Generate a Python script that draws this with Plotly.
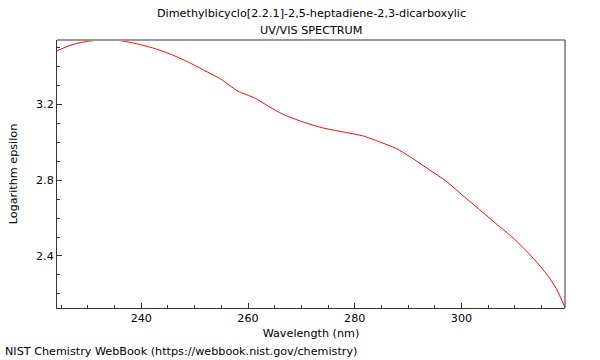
import plotly.graph_objects as go

wavelength_nm = [224.2, 226.8, 229.9, 233.1, 236.2, 239.3, 242.4, 245.6, 248.7, 251.8,
                 254.9, 258.1, 261.2, 264.0, 266.5, 270.2, 274.0, 277.7, 281.5, 284.6,
                 287.8, 290.9, 294.0, 297.1, 300.2, 303.4, 306.5, 309.6, 312.8, 315.9,
                 317.8, 319.4]
log_epsilon = [3.481, 3.511, 3.531, 3.538, 3.534, 3.517, 3.494, 3.462, 3.423, 3.378,
               3.332, 3.269, 3.233, 3.186, 3.147, 3.107, 3.075, 3.054, 3.033, 3.002,
               2.966, 2.913, 2.854, 2.795, 2.720, 2.644, 2.570, 2.497, 2.408, 2.307,
               2.227, 2.129]

x_ticks = [240, 260, 280, 300]
y_ticks = [2.4, 2.8, 3.2]

title_line1 = "Dimethylbicyclo[2.2.1]-2,5-heptadiene-2,3-dicarboxylic"
title_line2 = "UV/VIS SPECTRUM"
footer = "NIST Chemistry WebBook (https://webbook.nist.gov/chemistry)"

font = "DejaVu Sans, sans-serif"
fs = 11.2

fig = go.Figure()
fig.add_trace(go.Scatter(x=wavelength_nm, y=log_epsilon, mode="lines",
                         line=dict(color="#ff0000", width=1, shape="spline", smoothing=0.6),
                         hoverinfo="skip", showlegend=False))

fig.update_layout(
    width=600, height=360,
    margin=dict(l=57, r=35, t=40, b=52),
    paper_bgcolor="white", plot_bgcolor="white",
    font=dict(family=font, size=fs, color="#000000"),
    xaxis=dict(range=[224.2, 319.4], tickvals=x_ticks, ticks="inside", ticklen=5,
               tickcolor="#333", showgrid=False, zeroline=False,
               showline=True, linecolor="#333", linewidth=1,
               minor=dict(dtick=5, ticks="inside", ticklen=3, tickcolor="#333"),
               title=dict(text="Wavelength (nm)", standoff=4, font=dict(size=fs)),
               tickfont=dict(size=fs)),
    yaxis=dict(range=[2.126, 3.538], tickvals=y_ticks, ticks="inside", ticklen=5,
               tickcolor="#333", showgrid=False, zeroline=False,
               showline=True, linecolor="#333", linewidth=1,
               minor=dict(dtick=0.1, ticks="inside", ticklen=3, tickcolor="#333"),
               title=dict(text="Logarithm epsilon", standoff=16, font=dict(size=fs)),
               tickfont=dict(size=fs)),
    shapes=[
        dict(type="line", xref="paper", yref="paper", x0=0, x1=1, y0=1, y1=1,
             line=dict(color="#999999", width=2)),
        dict(type="line", xref="paper", yref="paper", x0=1, x1=1, y0=0, y1=1,
             line=dict(color="#333333", width=1)),
    ],
    annotations=[
        dict(text=title_line1, xref="paper", yref="paper", x=0.5, y=1.1007,
             xanchor="center", yanchor="middle", showarrow=False,
             font=dict(family=font, size=fs)),
        dict(text=title_line2, xref="paper", yref="paper", x=0.5, y=1.037,
             xanchor="center", yanchor="middle", showarrow=False,
             font=dict(family=font, size=fs)),
        dict(text=footer, xref="paper", yref="paper", x=-0.1063, y=-0.164,
             xanchor="left", yanchor="middle", showarrow=False,
             font=dict(family=font, size=fs)),
    ],
)

fig.write_html("out.html", config={"displayModeBar": False},
               post_script="document.body.style.margin='0';document.body.style.overflow='hidden';")
